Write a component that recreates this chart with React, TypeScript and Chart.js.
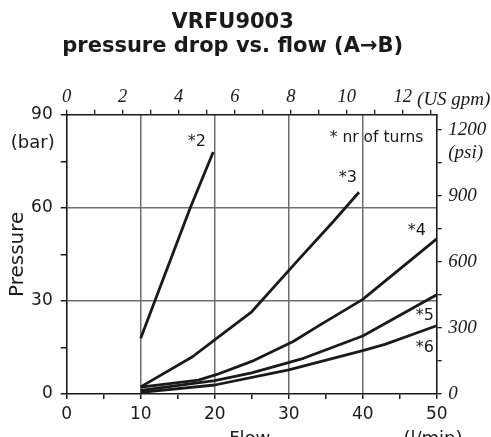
import React, { useEffect, useRef } from "react";
import { Chart, registerables } from "chart.js";

Chart.register(...registerables);

// ---- data (flow in l/min, pressure in bar) ----
const turns2Flow = [10, 12, 16.7, 19.8];
const turns2Pressure = [18, 30.5, 60, 78];

const turns3Flow = [10, 17, 20.3, 25, 31.3, 36, 39.5];
const turns3Pressure = [2.3, 12, 18, 26.5, 43.2, 55.5, 65];

const turns4Flow = [10, 17.8, 20.3, 25, 30.6, 34.2, 40, 50];
const turns4Pressure = [2.2, 4.5, 6.3, 10.5, 16.9, 22.2, 30.5, 50];

const turns5Flow = [10, 20, 25, 32, 40, 50];
const turns5Pressure = [1.2, 4.3, 6.8, 11.5, 18.7, 32];

const turns6Flow = [10, 20, 30, 40, 43, 50];
const turns6Pressure = [0.5, 2.9, 7.8, 14, 16, 22];

const curveLabels = ["*2", "*3", "*4", "*5", "*6"];
const curveLabelFlow = [17.6, 38.0, 47.3, 48.4, 48.4];
const curveLabelPressure = [81.4, 69.8, 52.6, 25.1, 14.8];

// tick labels
const flowLabelTicks = [0, 10, 20, 30, 40, 50];
const pressureLabelTicks = [0, 30, 60, 90];
const gpmLabelTicks = [0, 2, 4, 6, 8, 10, 12];
const psiLabelTicks = [0, 300, 600, 900, 1200];
const flowGridLines = [10, 20, 30, 40];
const pressureGridLines = [30, 60];

const LPM_PER_GPM = 3.785;
const PSI_AXIS_MAX = 1270; // psi value at the top edge, as drawn in the reference

const FLOW_MAX = 50;
const PRESSURE_MAX = 90;

const titleLines = ["VRFU9003", "pressure drop vs. flow (A\u2192B)"];

const toPoints = (xs: number[], ys: number[]) => xs.map((v, i) => ({ x: v, y: ys[i] }));

const SANS = '"DejaVu Sans", Verdana, sans-serif';
const SERIF = '"Liberation Serif", "Times New Roman", serif';
const INK = "#1a1a1a";
const GRID = "#6e6e6e";

const annotations = {
  id: "annotations",
  afterDatasetsDraw(chart: any) {
    const { ctx, chartArea } = chart;
    const x = chart.scales.x;
    const y = chart.scales.y;
    const x2 = chart.scales.x2;
    ctx.save();
    ctx.fillStyle = INK;

    // title
    ctx.textAlign = "center";
    ctx.textBaseline = "alphabetic";
    ctx.font = `bold 21px ${SANS}`;
    const titleX = (chartArea.left + chartArea.right) / 2 - 19;
    ctx.fillText(titleLines[0], titleX, chartArea.top - 87);
    ctx.fillText(titleLines[1], titleX, chartArea.top - 62.5);

    ctx.textBaseline = "middle";
    ctx.font = `16px ${SANS}`;
    curveLabels.forEach((t, i) => {
      ctx.fillText(t, x.getPixelForValue(curveLabelFlow[i]), y.getPixelForValue(curveLabelPressure[i]));
    });
    ctx.font = `15.5px ${SANS}`;
    ctx.textAlign = "right";
    ctx.fillText("* nr of turns", x.getPixelForValue(48.2), y.getPixelForValue(82.6));

    ctx.font = `18px ${SANS}`;
    ctx.textAlign = "center";
    ctx.fillText("(bar)", chartArea.left - 34, y.getPixelForValue(80.8));

    ctx.font = `italic 19px ${SERIF}`;
    ctx.textAlign = "left";
    ctx.fillText("(psi)", chartArea.right + 11.5, y.getPixelForValue(77.5));

    ctx.font = `italic 19px ${SERIF}`;
    ctx.textBaseline = "alphabetic";
    const w12 = ctx.measureText("12").width;
    const wsp = ctx.measureText(" ").width;
    ctx.fillText("(US gpm)", x2.getPixelForValue(12) + w12 / 2 + wsp, chartArea.top - 9.7);

    ctx.font = `18px ${SANS}`;
    ctx.textAlign = "center";
    ctx.fillText("Flow", (chartArea.left + chartArea.right) / 2 - 2, chartArea.bottom + 50);
    ctx.fillText("(l/min)", x.getPixelForValue(FLOW_MAX) - 3.7, chartArea.bottom + 50);
    ctx.restore();
  },
};

export default function App() {
  const ref = useRef<HTMLCanvasElement | null>(null);

  useEffect(() => {
    if (!ref.current) return;
    const lineStyle = {
      borderColor: INK,
      borderWidth: 2.8,
      pointRadius: 0,
      tension: 0,
      fill: false,
      borderCapStyle: "butt" as const,
      borderJoinStyle: "round" as const,
    };
    const chart = new Chart(ref.current, {
      type: "line",
      data: {
        datasets: [
          { label: "*2", data: toPoints(turns2Flow, turns2Pressure), ...lineStyle },
          { label: "*3", data: toPoints(turns3Flow, turns3Pressure), ...lineStyle },
          { label: "*4", data: toPoints(turns4Flow, turns4Pressure), ...lineStyle },
          { label: "*5", data: toPoints(turns5Flow, turns5Pressure), ...lineStyle },
          { label: "*6", data: toPoints(turns6Flow, turns6Pressure), ...lineStyle },
        ],
      },
      options: {
        animation: false,
        responsive: true,
        maintainAspectRatio: false,
        layout: { padding: { left: 0, right: 0, top: 57, bottom: 0 } },
        plugins: {
          legend: { display: false },
          tooltip: { enabled: false },
          title: { display: false },
        },
        scales: {
          x: {
            type: "linear",
            position: "bottom",
            min: 0,
            max: FLOW_MAX,
            afterFit: (s: any) => { s.height = 43; },
            ticks: {
              stepSize: 5,
              autoSkip: false,
              maxRotation: 0,
              includeBounds: false,
              padding: 5,
              color: INK,
              font: { family: SANS, size: 17 },
              callback: (v: any) => (flowLabelTicks.includes(Number(v)) ? String(v) : ""),
            },
            grid: {
              drawOnChartArea: true,
              drawTicks: true,
              tickLength: 5,
              tickColor: INK,
              lineWidth: 1.5,
              color: (c: any) => (flowGridLines.includes(c.tick?.value) ? GRID : "rgba(0,0,0,0)"),
            },
            border: { display: true, color: INK, width: 1.6 },
          },
          x2: {
            type: "linear",
            position: "top",
            min: 0,
            max: FLOW_MAX / LPM_PER_GPM,
            afterFit: (s: any) => { s.height = 57.7; },
            ticks: {
              stepSize: 1,
              autoSkip: false,
              maxRotation: 0,
              includeBounds: false,
              padding: 1,
              color: INK,
              font: { family: SERIF, size: 18.5, style: "italic" },
              callback: (v: any) => (gpmLabelTicks.includes(Number(v)) ? String(v) : ""),
            },
            grid: { drawOnChartArea: false, drawTicks: true, tickLength: 5, tickColor: INK, lineWidth: 1.3 },
            border: { display: true, color: INK, width: 1.6 },
          },
          y: {
            type: "linear",
            position: "left",
            min: 0,
            max: PRESSURE_MAX,
            afterFit: (s: any) => { s.width = 66.7; },
            title: {
              display: true,
              text: "Pressure",
              color: INK,
              font: { family: SANS, size: 20 },
              padding: { top: 6, bottom: 0 },
            },
            ticks: {
              stepSize: 15,
              autoSkip: false,
              includeBounds: false,
              padding: 8,
              color: INK,
              font: { family: SANS, size: 17 },
              callback: (v: any) => (pressureLabelTicks.includes(Number(v)) ? String(v) : ""),
            },
            grid: {
              drawOnChartArea: true,
              drawTicks: true,
              tickLength: 6,
              tickColor: INK,
              lineWidth: 1.5,
              color: (c: any) => (pressureGridLines.includes(c.tick?.value) ? GRID : "rgba(0,0,0,0)"),
            },
            border: { display: true, color: INK, width: 1.6 },
          },
          y2: {
            type: "linear",
            position: "right",
            min: 0,
            max: PSI_AXIS_MAX,
            afterFit: (s: any) => { s.width = 54.3; },
            ticks: {
              stepSize: 150,
              autoSkip: false,
              includeBounds: false,
              padding: 6.5,
              color: INK,
              font: { family: SERIF, size: 19, style: "italic" },
              callback: (v: any) => (psiLabelTicks.includes(Number(v)) ? String(v) : ""),
            },
            grid: { drawOnChartArea: false, drawTicks: true, tickLength: 5, tickColor: INK, lineWidth: 1.3 },
            border: { display: true, color: INK, width: 1.6 },
          },
        },
      },
      plugins: [annotations],
    } as any);
    return () => chart.destroy();
  }, []);

  return (
    <div style={{ position: "fixed", left: 0, top: 0, width: 491, height: 437, background: "#fff" }}>
      <canvas ref={ref} />
    </div>
  );
}
